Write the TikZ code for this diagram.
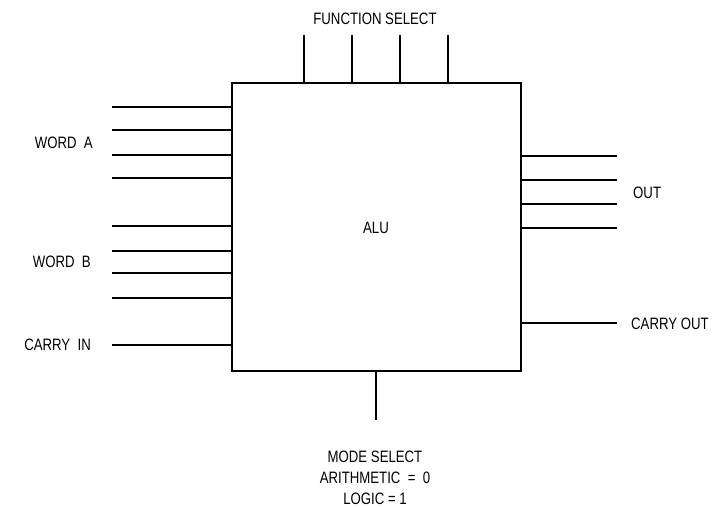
\documentclass[tikz,border=0pt]{standalone}
\usepackage{fontspec}
\setmainfont[FakeStretch=0.8]{Liberation Sans}
\begin{document}
\begin{tikzpicture}[x=1pt,y=-1pt,
  wire/.style={line width=1.6pt},
  lbl/.style={font=\fontsize{16.5}{19}\selectfont, inner sep=0pt},
  block/.style={draw, line width=1.8pt, minimum width=289pt, minimum height=288pt, inner sep=0pt}]
\useasboundingbox (0,0) rectangle (713,507);
\node[block] (alu) at (376.5,227) {};
\node[lbl] (alutxt) at (376,228) {ALU};
% function select
\node[lbl] (fs) at (375,19) {FUNCTION\ SELECT};
\foreach \i/\x in {1/304,2/352,3/400,4/448} {
  \coordinate (f\i) at (\x,35);
  \draw[wire] (f\i) -- (f\i |- alu.north);
}
% word A / word B inputs
\foreach \i/\y in {1/107,2/130,3/155,4/178,5/226,6/251,7/273,8/298} {
  \coordinate (w\i) at (112,\y);
  \draw[wire] (w\i) -- (w\i -| alu.west);
}
\node[lbl, anchor=east] (wa) at (93,143) {WORD\ \ A};
\node[lbl, anchor=east] (wb) at (91,262) {WORD\ \ B};
% carry in
\coordinate (ci) at (112,345);
\draw[wire] (ci) -- (ci -| alu.west);
\node[lbl, anchor=east] (citxt) at (91,345) {CARRY\ \ IN};
% outputs
\foreach \i/\y in {1/156,2/180,3/204,4/228} {
  \coordinate (o\i) at (617,\y);
  \draw[wire] (o\i -| alu.east) -- (o\i);
}
\node[lbl, anchor=west] (out) at (633,193) {OUT};
% carry out
\coordinate (co) at (617,323);
\draw[wire] (co -| alu.east) -- (co);
\node[lbl, anchor=west] (cotxt) at (631,324) {CARRY OUT};
% mode select
\coordinate (ms) at (376,420);
\draw[wire] (ms |- alu.south) -- (ms);
\node[lbl, align=center] (mstxt) at (375,478) {MODE SELECT\\[2pt] ARITHMETIC\ \ = \ 0\\[2pt] LOGIC = 1};
\end{tikzpicture}
\end{document}
